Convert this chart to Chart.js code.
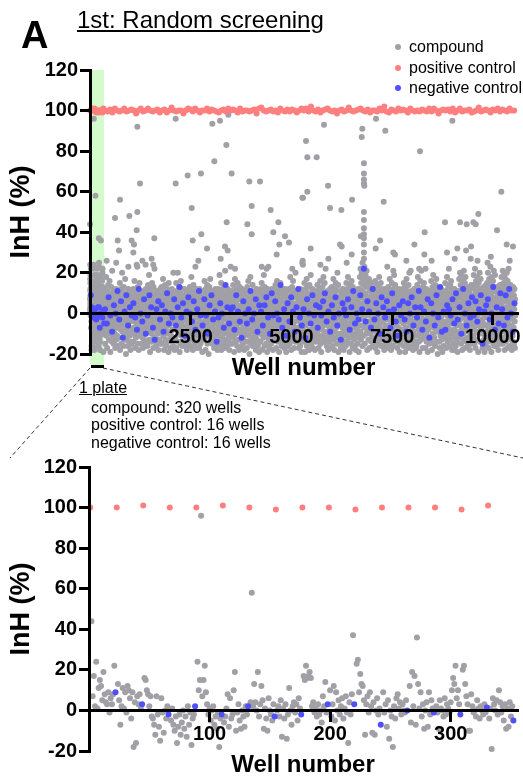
<!DOCTYPE html>
<html>
<head>
<meta charset="utf-8">
<script src="https://cdn.jsdelivr.net/npm/chart.js@4.4.1/dist/chart.umd.min.js"></script>
<style>
  body { margin: 0; background: #fff; }
  #fig { position: relative; width: 523px; height: 777px; overflow: hidden; font-family: "Liberation Sans", Arial, sans-serif; color: #000; }
  .box { position: absolute; left: 0; width: 523px; overflow: hidden; }
  .t { position: absolute; white-space: nowrap; line-height: 1; }
  .dot { position: absolute; width: 6px; height: 6px; border-radius: 50%; }
  #band { position: absolute; background: #d3fbcb; }
  #bracket { position: absolute; background: #000; height: 3px; }
</style>
</head>
<body>
<div id="fig">
  <div id="band"></div>
  <div id="bracket"></div>
  <div class="box" style="top:0;height:390px"><canvas id="screen" width="523" height="390"></canvas></div>
  <div class="box" style="top:400px;height:377px"><canvas id="plate" width="523" height="377"></canvas></div>

  <svg width="523" height="777" style="position:absolute;left:0;top:0">
    <line x1="90" y1="368" x2="10" y2="458" stroke="#333" stroke-width="1" stroke-dasharray="4,3"/>
    <line x1="103" y1="368" x2="523" y2="458" stroke="#333" stroke-width="1" stroke-dasharray="4,3"/>
  </svg>

  <div class="t" style="left:21px;top:16px;font-size:38px;font-weight:bold">A</div>
  <div class="t" style="left:77px;top:8px;font-size:24px;text-decoration:underline">1st: Random screening</div>

  <div class="dot" style="left:395px;top:44px;background:#a0a0a6"></div>
  <div class="t" style="left:409px;top:39px;font-size:16px">compound</div>
  <div class="dot" style="left:395px;top:65px;background:#ff7f7f"></div>
  <div class="t" style="left:409px;top:60px;font-size:16px">positive control</div>
  <div class="dot" style="left:395px;top:85px;background:#4f4fff"></div>
  <div class="t" style="left:409px;top:80px;font-size:16px">negative control</div>

  <div class="t" style="left:79px;top:380px;font-size:16px;text-decoration:underline">1 plate</div>
  <div class="t" style="left:91px;top:400px;font-size:16px">compound: 320 wells</div>
  <div class="t" style="left:91px;top:417px;font-size:16px">positive control: 16 wells</div>
  <div class="t" style="left:91px;top:435px;font-size:16px">negative control: 16 wells</div>
</div>

<script>
// ---- one plate (zoomed panel), values in well order ----
// 352 wells: positive control at 1+22k, negative control at 22+22k, compound in the rest
const plateCompound = [
  44, 7, 17, 2, 24, 1, 11, 15, 12, 5, 19, 8, 4, 3, 9, -1, 6, 3, 8, 22,
  13, 5, -7, 2, 11, 1, 9, -1, 12, 10, 6, -4, 9, -18, 4, -16, 7, 3, 8, 1,
  16, 15, 10, 8, 2, 7, -3, -4, -7, -12, 7, -2, -8, -15, 6, -1, -11, 0, -4, 2,
  -5, 1, -7, -10, -3, -16, -8, -2, -12, -6, 0, -9, -3, -13, 2, -7, -1, -17, -4, -2,
  24, 10, 15, 96, 7, 15, 22, 9, 3, -2, 1, -5, 0, 2, -7, -3, -9, -1, -18, -4,
  -6, -3, 1, 8, -8, 6, -4, -2, 10, 19, -10, -1, 3, -5, -9, 0, -3, -8, 2, -2,
  4, 58, 2, 13, 4, 0, 19, -3, 3, 12, 5, -9, 1, -4, -10, 6, 0, -2, -5, 3,
  0, 2, -3, 5, -13, 1, -4, 3, -14, -2, 11, 0, -7, 2, 4, -1, 3, -5, 6, 1,
  17, 15, 22, 16, 17, 19, 16, 2, 4, -1, 1, -3, 3, -2, 0, -6, 7, 2, 14, -1,
  10, -3, 3, 12, -5, 9, 0, 5, -2, 2, 6, -4, 1, 7, -1, -16, 4, -2, 8, 37,
  23, 25, 9, 18, 13, 12, 5, -12, 3, 7, -1, 9, 2, -11, 4, -12, 0, 6, -2, 1,
  9, -1, 3, -8, 5, -14, 0, -3, -18, 2, -4, 6, 8, 1, 4, -2, 3, 0, -1, 5,
  12, -6, 19, 2, 17, -7, 36, 13, 1, 9, -3, 3, -9, 0, 4, -8, 9, -2, 5, 1,
  2, -1, -9, 5, 1, 0, -3, 6, -2, 3, 1, -1, 4, 10, 16, 13, 22, 6, 10, 3,
  20, 22, 13, 7, 3, -10, -10, 8, 2, -1, 0, -3, 5, 1, -4, 2, 0, -2, 3, -1,
  -4, 1, -19, 6, 3, 0, 5, -2, 10, 4, -1, 2, -5, 3, -9, 1, -8, 4, -3, 2
];
const platePositive = [100, 100, 101, 100, 100, 101, 100, 99, 100, 100, 99, 100, 100, 100, 99, 101];
const plateNegative = [9, 3, -2, 2, -2, 2, -3, -2, 3, 3, -7, 0, -1, -2, 1.5, -5];

// ---- whole screen, plates 2..30 (sampled wells per plate) ----
const screenCompound = [
  [3,-8,12,-2,6,-15,0,9,-5,18,-11,4,-1,7,-17,2,11,-6,-3,14,5,-9,1,-13,8,-4,16,-7,0,10,-19,3,-2,6,-10,13,-5,2,-14,21,
   -12,6,-3,9,-8,1,-15,4,11,-6,-1,7,-10,3,-17,0,8,-4,12,-13,5,-7,2,-11,10,-2,-16,6,-5,1],
  [-6,4,10,-12,1,7,-3,15,-18,0,5,-8,12,-1,3,-15,8,-4,20,-9,2,11,-6,-2,6,-16,13,0,-11,4,9,-7,1,17,-13,-3,7,-20,5,-5,
   7,-13,2,-5,10,-9,0,-16,4,12,-2,-7,6,-14,1,9,-11,3,-4,-18,8,-1,11,-8,5,-15,0,3,-10,7],
  [8,-2,-14,5,12,-7,0,3,-10,16,-4,9,-17,1,6,-1,-12,11,4,-6,24,-3,7,-9,2,13,-15,0,10,-5,-18,6,3,-8,15,-2,1,-11,9,-4,
   -9,4,-1,10,-15,6,-6,2,-12,8,0,-17,5,-3,11,-8,1,-13,7,-5,3,-16,9,-2,-10,12,-7,4,-14,0],
  [-3,11,2,-16,7,-6,14,0,-9,4,-1,19,-13,5,8,-5,-19,1,12,-8,3,-2,9,-14,6,-10,15,0,-4,10,-7,2,-17,13,-1,5,-12,7,22,-6,
   4,-12,9,-3,0,-16,6,-8,11,1,-14,3,-6,8,-10,-1,5,-18,2,10,-5,-13,7,0,-9,4,-15,12,-2,-7],
  [1,-9,6,13,-4,-15,3,9,-7,0,17,-11,5,-2,8,-18,2,11,-5,-1,14,-13,4,7,-8,0,-16,10,3,-6,12,-3,-10,6,1,-14,9,-19,15,-2,
   -6,8,-13,2,11,-3,-9,5,-17,0,7,-11,3,-5,12,-14,1,9,-8,4,-16,6,-2,10,-12,-4,3,-18,8,-1],
  [5,-12,0,8,-5,15,-17,2,11,-8,-1,6,-14,20,3,-3,9,-10,1,13,-7,4,-19,7,-2,10,-15,0,16,-6,3,-11,12,-4,6,-16,2,8,-9,-1,
   9,-3,-11,4,-7,12,-14,0,6,-9,2,-16,8,-1,-12,5,10,-6,-18,3,-4,11,-10,1,-15,7,-2,4,-13,0],
  [-7,3,13,-1,-16,9,2,-10,6,-4,18,0,-13,5,11,-8,1,-18,7,-3,14,-12,4,-6,10,0,-15,3,8,-9,23,-2,-17,6,12,-5,1,-11,4,9,
   -2,10,-9,5,-14,1,7,-6,-17,3,12,-11,0,-4,8,-15,6,-1,-8,11,-13,2,-5,9,-19,4,-10,1,6,-7],
  [2,-6,10,-13,4,16,-9,0,7,-3,-18,12,-1,5,-11,8,-5,3,14,-15,0,6,-8,11,-2,-20,9,1,-7,13,-4,4,-12,17,-1,7,-14,2,10,-10,
   5,-10,0,8,-15,3,-6,11,-12,1,-3,7,-17,9,-8,4,-1,-14,6,12,-9,2,-5,-16,10,-3,3,-11,7,-18],
  [-4,8,1,-11,12,-7,5,-16,0,19,-2,6,-9,3,-13,10,-5,15,-18,2,7,-1,-12,11,4,-8,0,-15,9,-3,13,-10,5,1,-17,8,-6,21,-2,3,
   0,-13,7,-6,10,-16,2,5,-9,-1,12,-14,4,-4,8,-11,1,-18,6,-7,11,-2,-15,3,9,-10,-5,2,-12,6],
  [6,-1,-15,11,3,-9,14,-4,0,-12,8,-19,5,2,-7,17,-3,10,-14,1,6,-10,12,-6,-1,9,-16,4,15,-8,0,-13,7,3,-5,11,-18,2,-2,13,
   -8,3,10,-5,-13,7,1,-17,4,-10,12,-2,6,-15,0,9,-7,-12,3,8,-4,-18,11,-1,5,-14,2,-9,7,-3],
  [-10,5,9,-3,-17,1,13,-7,6,0,-14,16,-2,4,-11,10,-5,-20,8,2,-8,18,0,-15,6,-4,11,-12,3,7,-1,-9,14,-16,5,-6,9,1,-13,4,
   3,-8,-15,7,1,-11,10,-4,-18,5,-1,12,-9,2,-13,8,-6,0,-16,4,11,-3,-10,6,-19,1,9,-7,-2,5],
  [7,-14,2,12,-5,-10,4,15,-1,-18,9,-7,3,11,-3,-12,6,0,19,-9,1,-16,13,-4,5,8,-11,-2,10,-15,2,22,-6,4,-19,12,0,-8,6,-3,
   -4,9,-13,1,6,-8,-17,11,2,-5,-11,8,-1,-15,4,10,-7,-3,12,-14,0,6,-10,-18,3,-6,9,-12,1,7],
  [0,9,-12,5,-4,14,-8,2,-17,11,6,-1,-10,16,3,-6,-14,8,1,-3,13,-11,4,-19,7,-5,10,0,-9,15,2,-13,6,-2,-16,12,-7,3,9,-4,
   6,-9,2,-15,10,-4,-11,7,0,-17,3,12,-6,-13,5,-1,9,-8,-19,4,-3,11,-12,1,-7,8,-16,2,-10,6],
  [-2,12,-9,4,7,-15,1,-5,18,0,-11,6,3,-18,10,-3,-8,13,5,-13,2,-1,16,-6,8,-10,0,-17,11,4,-4,9,-14,1,20,-7,5,-12,3,-1,
   -11,3,8,-7,0,-14,5,11,-2,-9,-17,6,1,-12,9,-4,3,-16,12,-6,-1,7,-13,4,-19,10,-8,0,5,-10],
  [4,-7,11,-1,-14,8,2,-10,15,-4,0,-19,6,12,-6,3,-12,9,-2,17,-16,5,1,-9,13,-5,7,-13,0,10,-3,-18,4,14,-8,2,-11,6,-1,19,
   2,-15,6,-3,9,-11,-1,12,-8,4,-17,0,7,-6,-13,10,-2,5,-10,1,-18,8,-4,11,-14,3,-7,6,-12,0],
  [-9,2,14,-5,6,-13,0,10,-17,4,8,-2,-11,12,1,-7,16,-15,3,-4,9,-19,5,11,-1,-8,2,13,-12,6,-6,0,18,-14,7,-3,-10,4,15,-2,
   -5,7,-12,1,10,-9,-3,4,-16,8,0,-13,11,-6,2,-18,6,-1,-10,9,3,-14,5,-7,12,-4,-11,1,-17,7],
  [1,-11,7,13,-3,-8,10,-16,4,0,-13,17,-6,2,9,-1,-18,5,12,-9,3,-4,15,-12,8,-7,0,11,-15,6,-2,20,-10,1,-5,14,-19,3,8,-6,
   8,-6,-13,3,-1,11,-10,5,-17,0,7,-4,-12,9,2,-15,-7,4,12,-2,-9,6,-18,1,10,-11,3,-5,-14,5],
  [6,-4,-16,9,1,15,-10,3,-7,12,-1,-14,5,18,-8,0,8,-12,2,-5,11,-19,7,-2,14,-9,4,-15,10,0,-6,16,-3,-11,6,2,-17,13,-1,9,
   -3,9,2,-13,6,-7,-16,1,11,-10,4,-1,-18,8,-5,3,-12,10,-8,0,-15,7,-3,12,-11,5,-19,2,-6,8],
  [12,-3,18,5,-9,22,2,-13,15,8,-6,20,0,11,-16,25,4,-2,17,9,-11,14,1,-7,23,6,-15,10,3,-4,19,-1,13,-10,7,21,-5,16,-18,8,
   5,-9,14,0,-13,8,-4,17,-7,2,-17,11,-1,6,-10,13,-5,3,-14,9,0,-8,15,-12,4,-3,10,-16,7,1],
  [-5,8,2,-14,11,-2,-9,16,4,-17,7,0,13,-7,-12,3,10,-1,-19,6,14,-4,1,-10,9,-15,5,18,-6,2,-13,11,-3,7,-8,15,0,-16,4,12,
   1,-11,6,-16,9,-4,3,-13,11,-1,-8,7,-18,4,0,-10,12,-6,2,-15,8,-3,-12,5,10,-7,-1,-17,6,3],
  [3,-10,13,-6,0,9,-15,5,-2,17,-8,1,-13,11,4,-4,-18,8,2,-11,15,-1,6,-7,10,-16,0,12,-5,3,-12,19,-3,7,-9,1,14,-14,5,-1,
   -6,8,-12,0,11,-9,4,-17,6,-2,-14,9,1,-7,12,-11,3,-4,-19,7,-1,10,-15,2,-8,5,-13,8,0,-10],
  [-8,6,-1,12,-13,3,8,-5,-16,15,1,-10,10,-3,5,-19,13,0,-7,9,-12,4,17,-2,-15,7,2,-9,11,-4,6,-17,14,-1,3,-11,20,-6,8,0,
   4,-13,9,-2,-10,6,0,-16,11,-7,3,-12,7,-4,-18,10,1,-9,5,-15,12,-5,2,-11,8,-1,-14,6,-17,3],
  [5,-16,9,1,-6,14,-11,3,18,-3,-8,7,0,-14,12,-1,-19,10,4,-9,16,-5,2,-13,8,21,-2,-10,6,11,-7,0,-17,13,3,-4,9,-12,15,-6,
   -7,2,11,-12,5,-3,-17,8,0,-9,12,-14,4,-6,9,-11,1,-19,6,-2,10,-8,3,-15,7,-4,-12,0,11,-6],
  [-1,10,-13,4,16,-6,2,-18,8,-3,13,0,-10,6,19,-15,3,-7,11,-2,-12,7,1,-16,14,-4,9,-9,0,17,-14,5,-1,12,-8,2,-20,10,-5,6,
   3,-9,6,-14,0,11,-5,-17,8,2,-11,5,-7,12,-2,-13,9,-4,1,-19,7,-10,4,-6,10,-16,0,6,-12,3],
  [8,-7,3,15,-12,0,11,-4,-17,6,2,-9,18,-1,-14,9,4,-6,13,-11,1,22,-3,7,-16,10,-8,0,14,-2,-13,5,16,-10,3,-5,12,-18,6,-1,
   -10,5,-2,9,-15,1,7,-8,-18,12,-4,3,-12,10,-1,-16,6,0,-9,8,-14,4,11,-6,-19,2,-3,9,-11,5],
  [11,-5,17,2,-12,8,20,-3,-9,14,5,-15,0,19,-7,9,3,-18,13,-1,16,-10,6,1,-6,21,-13,10,4,-2,15,-17,7,18,-8,2,12,-4,-14,9,
   6,-12,1,10,-6,-16,8,-2,13,-9,3,-14,11,-4,0,-18,7,12,-11,5,-7,-1,14,-15,2,9,-5,-13,6,-8],
  [-3,14,6,-11,19,1,-7,12,-15,8,22,-2,4,-17,10,16,-5,0,13,-9,7,-13,18,3,-1,11,-19,5,15,-6,9,-10,2,20,-4,12,-14,6,17,-8,
   9,-7,2,-14,12,-3,6,-17,0,10,-10,4,-5,13,-13,1,7,-19,11,-2,5,-12,8,-6,14,-16,3,-9,0,10],
  [15,-2,9,-14,20,5,-8,12,-17,2,17,-5,7,-11,13,0,23,-13,4,10,-7,-19,14,1,18,-4,8,-10,3,16,-15,11,-1,21,6,-9,-16,12,2,19,
   -6,11,-12,4,8,-3,-16,13,1,-9,6,-14,10,-1,3,-18,12,-7,0,9,-11,5,-4,14,-15,7,-2,-13,11,2],
  [4,18,-9,13,-3,8,-15,21,0,11,-6,15,-12,6,19,-1,-18,9,14,-8,3,17,-14,7,12,-4,-10,20,2,-17,10,16,-5,1,13,-11,22,5,-7,9,
   -3,12,-16,6,0,14,-9,3,-13,10,-6,1,-18,8,-2,11,-11,5,13,-14,4,-7,9,-15,2,12,-4,-17,7,-1]
];
// isolated hits above the main band: [well, InH]
const screenHits = [
  [1175,92],[2127,96],[3037,93.5],[3227,95],[3434,98],[3385,83],[3087,75],[3516,69],[2755,69],[2424,68],
  [2127,64],[1241,64],[3955,65],[4220,65],[745,56],[2524,52],[4014,53],[4485,51],[5271,57],[621,47],
  [977,48],[1175,50],[1158,41],[3393,45],[3906,44],[4676,45],[4551,40],[4014,39],[2764,39],[4841,38],
  [1597,37],[687,36],[1034,36],[1092,34],[2549,36],[4940,35],[4700,34],[3351,33],[3418,31],[2905,32],
  [720,31],[1076,30],[4634,29],[3244,27],[2689,26],[414,26],[650,25],[1300,26],[1380,24],[1530,27],
  [1570,24],[952,23],[1175,23],[3492,23],[3600,22],[4262,23],[4428,23],[2069,20],[5022,22],[5271,25],
  [5809,93],[5362,85],[5395,77],[5627,77],[6760,91],[6745,87],[6800,74],[6800,69],[6800,66],[6800,64],
  [6810,63],[7100,96],[7331,90],[8192,80],[8995,95],[5288,57],[5395,60],[5909,63],[5958,52],[6240,51],
  [6505,56],[7290,55],[6800,50],[6800,46],[6800,42],[6800,39],[6800,37],[6725,38],[6800,34],[6800,30],
  [6800,27],[6248,33],[6207,34],[5478,32],[7200,36],[7092,32],[5280,26],[5285,24],[5917,27],[6372,25],
  [6496,29],[7530,30],[7570,29],[8052,34],[8308,40],[8813,45],[9185,45],[9351,44],[9517,45],[9575,44],
  [9641,49],[10104,41],[10211,60],[10344,34],[8862,30],[9119,32],[9335,31],[9459,33],[8300,29],[7853,26],
  [8481,26],[9054,27],[9451,27],[7380,23],[5720,24],[5850,22],[7530,21],[7960,21],[8170,22],[8330,22],
  [9620,26],[9870,25],[9950,28],[10420,26],[10500,33]
];
const screenPositive = [
  [100,99.5,100.5,99,101,100],[99.5,100,101,99.5,100,100.5],[100,98.5,100,101,99.5,100],
  [101,100,99.5,100,100.5,99],[100,100.5,99,100,101.5,100],[99.5,100,100,98.5,100,101],
  [100.5,99.5,101,100,99,100],[100,101,99.5,100.5,100,99.5],[99,100,100.5,99.5,101,100],
  [100.5,100,99,101,99.5,100],[100,99.5,100,100.5,98.5,101],[101.5,100,99.5,100,100.5,99.5],
  [100,99,101,100,99.5,100.5],[99.5,100.5,100,99,100,101],[100,101,99.5,102,100,99.5],
  [100.5,99,100,100.5,101,100],[99.5,100,98.5,100,100.5,99.5],[100,101.5,100,99.5,100,100.5],
  [101,100,99.5,100.5,99,100],[100,99.5,101,100,102,99.5],[99,100.5,100,99.5,101,100],
  [100.5,100,99,101,100,99.5],[100,99.5,100.5,100,99.5,101],[99.5,101,100,98.5,100,100.5],
  [100,100.5,99.5,101,99,100],[101,99.5,100,100,100.5,99],[99.5,100,101.5,99.5,100,100.5],
  [100,99,100.5,100,101,99.5],[100.5,100,99.5,101,100,100]
];
const screenNegative = [
  [2,-5,8,-1,-9,4,0,11],[-3,6,-12,1,9,-6,3,-1],[5,-2,-8,12,0,-4,7,-10],[-1,9,3,-7,-13,2,6,-3],
  [4,-9,1,10,-5,0,-2,7],[-6,3,13,-2,5,-11,1,8],[0,-4,6,-8,2,11,-1,-6],[7,-1,-10,4,9,-3,1,-14],
  [-2,5,0,-7,14,3,-5,2],[3,-8,9,1,-4,-12,6,0],[-5,2,11,-3,0,7,-9,4],[1,-6,4,8,-2,-10,10,-1],
  [6,0,-3,14,-7,2,-11,5],[-4,8,1,-9,3,12,-2,-6],[2,-12,7,0,-5,9,-1,4],[-7,3,-1,6,10,-4,1,-9],
  [4,-2,8,-6,0,-13,5,2],[-1,7,-8,3,11,-5,0,-3],[9,2,22,-4,6,1,-7,12],[-3,5,0,-10,8,3,-2,6],
  [1,-7,10,2,-4,-11,4,-1],[6,-3,-9,5,0,8,-6,3],[-2,11,3,-8,1,-4,7,-12],[5,0,-6,9,-2,13,-9,1],
  [-8,4,2,-1,7,-5,10,-3],[3,-10,12,0,-6,5,-2,8],[-1,6,-4,2,9,-15,1,4],[7,-3,0,13,-8,3,-5,10],
  [2,-6,9,-2,12,0,-9,5]
];

const yTicks = [-20, 0, 20, 40, 60, 80, 100, 120];
const screenXTicks = [2500, 5000, 7500, 10000];
const plateXTicks = [100, 200, 300];

// ---- layout helpers ----
const WELLS = 352;
const FONT = '"Liberation Sans", Arial, sans-serif';
const GRAY = '#a0a0a6', PINK = '#ff7f7f', BLUE = '#4f4fff';

const posWells = platePositive.map((v, k) => 1 + 22 * k);
const negWells = plateNegative.map((v, k) => 22 + 22 * k);
const ctrlWells = new Set(posWells.concat(negWells));
const cmpWells = [];
for (let w = 1; w <= WELLS; w++) if (!ctrlWells.has(w)) cmpWells.push(w);

const pair = (xs, ys) => ys.map((y, i) => ({x: xs[i], y: y}));
// spread sampled wells of plate p across that plate
const spread = (rows) => {
  const out = [];
  rows.forEach((row, r) => {
    const p = r + 1;
    row.forEach((v, j) => out.push({x: p * WELLS + (j + 0.5) * WELLS / row.length, y: v}));
  });
  return out;
};

const plateCmpPts = pair(cmpWells, plateCompound);
const platePosPts = pair(posWells, platePositive);
const plateNegPts = pair(negWells, plateNegative);

const screenCmpPts = plateCmpPts.concat(spread(screenCompound), screenHits.map(h => ({x: h[0], y: h[1]})));
const screenPosPts = platePosPts.concat(spread(screenPositive));
const screenNegPts = plateNegPts.concat(spread(screenNegative));

function dataset(label, data, color, order) {
  return {label, data, order, backgroundColor: color, borderWidth: 0,
          pointRadius: 3, pointHoverRadius: 3, clip: false};
}

function axisOpts(extra) {
  return Object.assign({
    grid: {display: true, drawOnChartArea: false, drawTicks: true, tickLength: 10, lineWidth: 3, color: '#000', z: 1},
    border: {display: true, width: 3, color: '#000', z: 1},
    ticks: {color: '#000', font: {family: FONT, size: 20, weight: 'bold'}, padding: 2,
            maxRotation: 0, autoSkip: false, z: 1, callback: v => String(v)}
  }, extra);
}

function makeChart(id, sets, xMax, xTicks, pad) {
  return new Chart(document.getElementById(id), {
    type: 'scatter',
    data: {datasets: sets},
    options: {
      responsive: false,
      animation: false,
      events: [],
      layout: {padding: pad},
      plugins: {legend: {display: false}, tooltip: {enabled: false}},
      scales: {
        x: axisOpts({
          type: 'linear', min: 0, max: xMax, position: {y: 0},
          afterBuildTicks: ax => { ax.ticks = xTicks.map(v => ({value: v})); },
          title: {display: true, text: 'Well number', color: '#000',
                  font: {family: FONT, size: 24, weight: 'bold'}, padding: {top: 3, bottom: 0}}
        }),
        y: axisOpts({
          type: 'linear', min: -20, max: 120,
          afterBuildTicks: ax => { ax.ticks = yTicks.map(v => ({value: v})); },
          afterFit: ax => { ax.width = pad.axisW; },
          title: {display: true, text: 'InH (%)', color: '#000',
                  font: {family: FONT, size: 27, weight: 'bold'}, padding: {top: 5, bottom: 0}}
        })
      }
    }
  });
}

const screenChart = makeChart('screen', [
  dataset('compound', screenCmpPts, GRAY, 3),
  dataset('positive control', screenPosPts, PINK, 1),
  dataset('negative control', screenNegPts, BLUE, 2)
], 10600, screenXTicks, {top: 70, right: 6, bottom: 36, left: 0, axisW: 90});

makeChart('plate', [
  dataset('compound', plateCmpPts, GRAY, 3),
  dataset('positive control', platePosPts, PINK, 1),
  dataset('negative control', plateNegPts, BLUE, 2)
], 355, plateXTicks, {top: 67, right: 6, bottom: 26, left: 0, axisW: 89});

// green band behind the top canvas marking the plate shown below, and the bracket under it
const sx = screenChart.scales.x, sy = screenChart.scales.y;
const bx0 = sx.getPixelForValue(0), bx1 = sx.getPixelForValue(WELLS);
const byTop = sy.getPixelForValue(120), byBot = sy.getPixelForValue(-20) + 11;
Object.assign(document.getElementById('band').style,
  {left: bx0 + 'px', top: byTop + 'px', width: (bx1 - bx0) + 'px', height: (byBot - byTop) + 'px'});
Object.assign(document.getElementById('bracket').style,
  {left: (bx0 + 1) + 'px', top: byBot + 'px', width: (bx1 - bx0 - 1) + 'px'});
</script>
</body>
</html>
